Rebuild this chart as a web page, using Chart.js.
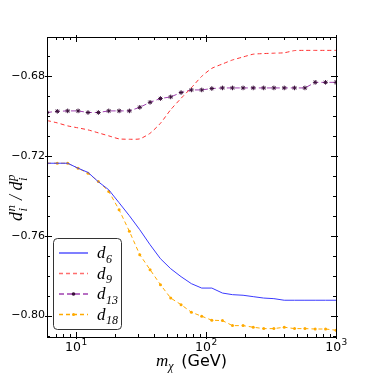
<!DOCTYPE html>
<html>
<head>
<meta charset="utf-8">
<script src="https://cdn.jsdelivr.net/npm/chart.js@4"></script>
<style>
  html, body { margin: 0; padding: 0; background: #fff; }
  #wrap { width: 374px; height: 374px; }
</style>
</head>
<body>
<div id="wrap"><canvas id="c" width="374" height="374"></canvas></div>
<script>
// dark matter mass (GeV), log spaced
const massGeV = [6, 7.2, 8.65, 10.4, 12.4, 14.9, 17.9, 21.5, 25.8, 31, 37.2, 44.7, 53.6, 64.4,
  77.3, 92.8, 111, 134, 160, 193, 231, 278, 333, 400, 480, 577, 692, 831, 1000];

const d6 = [-0.7237, -0.7237, -0.7237, -0.7262, -0.7283, -0.7330, -0.7370, -0.7435, -0.7500, -0.7570,
  -0.7645, -0.7715, -0.7765, -0.7805, -0.7840, -0.7862, -0.7862, -0.7887, -0.7895, -0.7898,
  -0.7905, -0.7912, -0.7915, -0.7923, -0.7923, -0.7923, -0.7923, -0.7923, -0.7923];
const d9 = [-0.7023, -0.7035, -0.7050, -0.7060, -0.7070, -0.7085, -0.7100, -0.7115, -0.7117, -0.7115,
  -0.7087, -0.7037, -0.6969, -0.6912, -0.6859, -0.6802, -0.6762, -0.6740, -0.6720, -0.6705,
  -0.6691, -0.6688, -0.6686, -0.6684, -0.6673, -0.6672, -0.6672, -0.6672, -0.6672];
const d13 = [-0.6983, -0.6977, -0.6975, -0.6975, -0.6983, -0.6983, -0.6975, -0.6975, -0.6975, -0.6957,
  -0.6932, -0.6913, -0.6905, -0.6883, -0.6870, -0.6870, -0.6863, -0.6860, -0.6860, -0.6860,
  -0.6860, -0.6860, -0.6860, -0.6860, -0.6860, -0.6860, -0.6832, -0.6832, -0.6832];
const d18 = [-0.7237, -0.7237, -0.7237, -0.7262, -0.7287, -0.7328, -0.7378, -0.7470, -0.7578, -0.7695,
  -0.7770, -0.7845, -0.7912, -0.7945, -0.7983, -0.8003, -0.8023, -0.8025, -0.8050, -0.8050,
  -0.8058, -0.8065, -0.8065, -0.8058, -0.8065, -0.8065, -0.8067, -0.8067, -0.8073];

const seriesSubs = ['6', '9', '13', '18'];

const xMajorTicks = [10, 100, 1000];
const xMajorExp = ['1', '2', '3'];
const xMinorTicks = [6, 7, 8, 9, 20, 30, 40, 50, 60, 70, 80, 90, 200, 300, 400, 500, 600, 700, 800, 900];
const yMajorTicks = [-0.68, -0.72, -0.76, -0.80];
const yMajorLabels = ['\u22120.68', '\u22120.72', '\u22120.76', '\u22120.80'];
const yMinorTicks = [-0.67, -0.69, -0.70, -0.71, -0.73, -0.74, -0.75, -0.77, -0.78, -0.79, -0.81];

const BLUE = '#3a3aff';
const RED = '#ff3030';
const PURPLE = '#a040b0';
const STAR = '#3a0f3a';
const ORANGE = '#ffaa00';

const pts = arr => arr.map((v, i) => ({ x: massGeV[i], y: v }));

const SERIF = '"Liberation Serif", "DejaVu Serif", serif';
const SANS = '"DejaVu Sans", sans-serif';

// italic math text with sub/superscripts, returns advance
function mathText(ctx, x, y, base, sub, sup, size) {
  ctx.font = 'italic ' + size + 'px ' + SERIF;
  ctx.fillText(base, x, y);
  let w = ctx.measureText(base).width;
  const small = Math.round(size * 0.7);
  ctx.font = 'italic ' + small + 'px ' + SERIF;
  let ws = 0;
  if (sub) { ctx.fillText(sub, x + w + 0.5, y + size * 0.28); ws = ctx.measureText(sub).width; }
  if (sup) { ctx.fillText(sup, x + w + 0.5, y - size * 0.38); ws = Math.max(ws, ctx.measureText(sup).width); }
  return w + ws + 1;
}

const decor = {
  id: 'decor',
  afterDraw(chart) {
    const { ctx, chartArea: a, scales: { x, y } } = chart;
    ctx.save();
    ctx.strokeStyle = '#000';
    ctx.fillStyle = '#000';
    ctx.lineWidth = 1;
    ctx.strokeRect(Math.round(a.left) + 0.5, Math.round(a.top) + 0.5,
      Math.round(a.right - a.left), Math.round(a.bottom - a.top));

    ctx.beginPath();
    xMajorTicks.forEach(v => {
      const px = Math.round(x.getPixelForValue(v)) + 0.5;
      ctx.moveTo(px, a.bottom + 2); ctx.lineTo(px, a.bottom - 5);
      ctx.moveTo(px, a.top - 2); ctx.lineTo(px, a.top + 5);
    });
    xMinorTicks.forEach(v => {
      const px = Math.round(x.getPixelForValue(v)) + 0.5;
      ctx.moveTo(px, a.bottom); ctx.lineTo(px, a.bottom - 3);
      ctx.moveTo(px, a.top); ctx.lineTo(px, a.top + 3);
    });
    yMajorTicks.forEach(v => {
      const py = Math.round(y.getPixelForValue(v)) + 0.5;
      ctx.moveTo(a.left - 2, py); ctx.lineTo(a.left + 5, py);
      ctx.moveTo(a.right + 2, py); ctx.lineTo(a.right - 5, py);
    });
    yMinorTicks.forEach(v => {
      const py = Math.round(y.getPixelForValue(v)) + 0.5;
      ctx.moveTo(a.left, py); ctx.lineTo(a.left + 3, py);
      ctx.moveTo(a.right, py); ctx.lineTo(a.right - 3, py);
    });
    ctx.stroke();

    // y tick labels
    ctx.font = '11px ' + SANS;
    ctx.textAlign = 'right';
    ctx.textBaseline = 'middle';
    yMajorTicks.forEach((v, i) => ctx.fillText(yMajorLabels[i], a.left - 2, y.getPixelForValue(v)));

    // x tick labels 10^n
    ctx.textBaseline = 'alphabetic';
    ctx.textAlign = 'left';
    xMajorTicks.forEach((v, i) => {
      ctx.font = '12.5px ' + SANS;
      const wb = ctx.measureText('10').width;
      ctx.font = '9px ' + SANS;
      const we = ctx.measureText(xMajorExp[i]).width;
      const px = x.getPixelForValue(v) - (wb + we) / 2;
      ctx.font = '12.5px ' + SANS;
      ctx.fillText('10', px, a.bottom + 14);
      ctx.font = '9px ' + SANS;
      ctx.fillText(xMajorExp[i], px + wb + 0.5, a.bottom + 8);
    });

    // x axis title
    ctx.font = 'italic 17px ' + SERIF;
    const wm = ctx.measureText('m').width;
    ctx.font = '16px ' + SANS;
    const wg = ctx.measureText(' (GeV)').width;
    let tx = (a.left + a.right) / 2 - (wm + 8 + wg) / 2;
    const ty = a.bottom + 29;
    ctx.font = 'italic 17px ' + SERIF;
    ctx.fillText('m', tx, ty);
    ctx.font = 'italic 12px ' + SERIF;
    ctx.fillText('\u03c7', tx + wm, ty + 4);
    ctx.font = '16px ' + SANS;
    ctx.fillText(' (GeV)', tx + wm + 8, ty);

    // y axis title, rotated
    ctx.save();
    ctx.translate(22, (a.top + a.bottom) / 2 + 3);
    ctx.rotate(-Math.PI / 2);
    let cx = -31;
    cx += mathText(ctx, cx, 0, 'd', 'i', 'n', 18);
    ctx.font = 'italic 18px ' + SERIF;
    ctx.fillText(' / ', cx, 0);
    cx += ctx.measureText(' / ').width;
    mathText(ctx, cx, 0, 'd', 'i', 'p', 18);
    ctx.restore();

    // legend
    const lx = 53.5, ly = 238.5, lw = 68, lh = 91;
    ctx.beginPath();
    ctx.roundRect(lx, ly, lw, lh, 4);
    ctx.fillStyle = 'rgba(255,255,255,0.9)';
    ctx.fill();
    ctx.strokeStyle = '#333';
    ctx.stroke();
    const rows = [253, 273.5, 294, 314.5];
    chart.data.datasets.forEach((ds, i) => {
      const ry = rows[i];
      ctx.save();
      ctx.strokeStyle = ds.borderColor;
      ctx.globalAlpha = i === 1 ? 0.7 : 1;
      ctx.lineWidth = 1.3;
      ctx.setLineDash(ds.borderDash || []);
      ctx.beginPath();
      ctx.moveTo(59, ry); ctx.lineTo(88, ry);
      ctx.stroke();
      ctx.restore();
      if (i === 2) {
        ctx.fillStyle = STAR;
        ctx.beginPath(); ctx.arc(73.5, ry, 1.8, 0, Math.PI * 2); ctx.fill();
      }
      if (i === 3) {
        ctx.fillStyle = ORANGE;
        ctx.beginPath(); ctx.arc(73.5, ry, 1.5, 0, Math.PI * 2); ctx.fill();
      }
      ctx.fillStyle = '#000';
      mathText(ctx, 97, ry + 5, 'd', seriesSubs[i], null, 17);
    });
    ctx.restore();
  }
};

new Chart(document.getElementById('c'), {
  type: 'line',
  data: {
    datasets: [
      { label: 'd6', data: pts(d6), borderColor: BLUE, borderWidth: 1, pointRadius: 0, tension: 0 },
      { label: 'd9', data: pts(d9), borderColor: RED, borderWidth: 1, borderDash: [4, 3], pointRadius: 0, tension: 0.2 },
      { label: 'd13', data: pts(d13), borderColor: PURPLE, borderWidth: 1, borderDash: [5, 3],
        pointStyle: 'star', pointRadius: 2.3, pointBorderColor: STAR, pointBackgroundColor: STAR, pointBorderWidth: 1 },
      { label: 'd18', data: pts(d18), borderColor: ORANGE, borderWidth: 1, borderDash: [4, 3],
        pointRadius: 1.5, pointBorderWidth: 0, pointBackgroundColor: ORANGE }
    ]
  },
  options: {
    responsive: false,
    animation: false,
    layout: { padding: { left: 47, top: 37, right: 38, bottom: 37 } },
    scales: {
      x: { type: 'logarithmic', min: 6, max: 1000, display: false },
      y: { type: 'linear', min: -0.8107, max: -0.6605, display: false }
    },
    plugins: { legend: { display: false }, tooltip: { enabled: false } }
  },
  plugins: [decor]
});
</script>
</body>
</html>
